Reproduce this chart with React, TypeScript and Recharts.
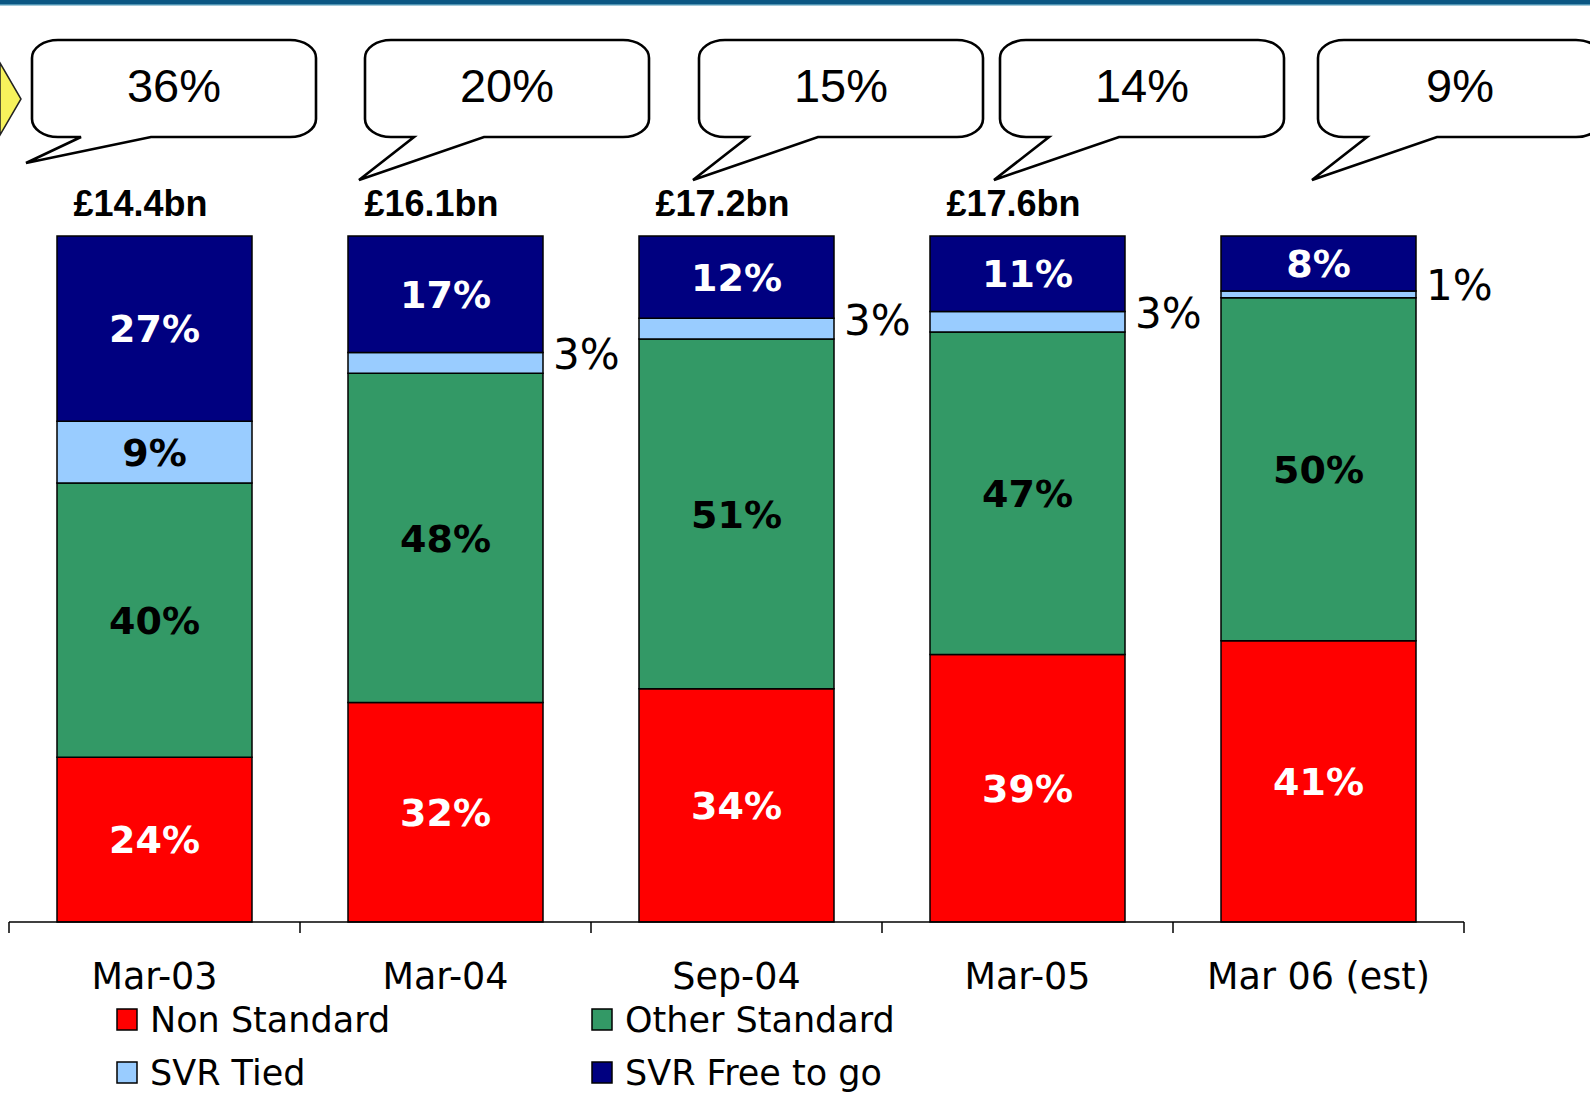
import React from 'react';
import { BarChart, Bar, XAxis, YAxis, LabelList, Legend } from 'recharts';

const categories = ['Mar-03', 'Mar-04', 'Sep-04', 'Mar-05', 'Mar 06 (est)'];
const nonStandard = [24, 32, 34, 39, 41];
const otherStandard = [40, 48, 51, 47, 50];
const svrTied = [9, 3, 3, 3, 1];
const svrFreeToGo = [27, 17, 12, 11, 8];
const bookSize = ['£14.4bn', '£16.1bn', '£17.2bn', '£17.6bn', ''];
const calloutShare = ['36%', '20%', '15%', '14%', '9%'];

const data = categories.map((cat, i) => ({
  cat,
  nonStandard: nonStandard[i],
  otherStandard: otherStandard[i],
  svrTied: svrTied[i],
  svrFreeToGo: svrFreeToGo[i],
}));

// layout
const W = 1590;
const H = 1093;
const XAXIS_H = 171;
const AXIS_Y = H - XAXIS_H;
const BAND = (W - 9 - 126) / categories.length;
const BUBBLE_SHIFT = [-25, 17, 60, 70, 97];
const BUBBLE_TIP_Y = [163, 180, 180, 180, 180];

const TAHOMA = "'DejaVu Sans', Verdana, sans-serif";
const ARIAL = "'Liberation Sans', Arial, sans-serif";

const COLORS = {
  nonStandard: '#ff0000',
  otherStandard: '#339966',
  svrTied: '#99ccff',
  svrFreeToGo: '#000080',
};

const box = (props: any) => props.viewBox ?? props;

const insideLabel = (color: string) => (props: any) => {
  const { x, y, width, height } = box(props);
  return (
    <text x={x + width / 2} y={y + height / 2} dy="0.36em" textAnchor="middle"
      fill={color} fontFamily={TAHOMA} fontWeight="bold" fontSize={38}>
      {props.value}%
    </text>
  );
};

const tiedLabel = (props: any) => {
  const { x, y, width, height } = box(props);
  if (props.value >= 5) return insideLabel('#000')(props);
  return (
    <text x={x + width + 10} y={y + height / 2 - 9} dy="0.36em" textAnchor="start"
      fill="#000" fontFamily={TAHOMA} fontSize={42}>
      {props.value}%
    </text>
  );
};

// speech bubble + book size above each bar
const calloutLabel = (props: any) => {
  const { x, width } = box(props);
  const i = categories.indexOf(props.value);
  if (i < 0) return null;
  const L = x + BUBBLE_SHIFT[i];
  const T = 40;
  const B = 137;
  const R = L + 284;
  const rx = 26;
  const ry = 18;
  const d = [
    `M${L + rx},${T}`, `H${R - rx}`, `A${rx},${ry} 0 0 1 ${R},${T + ry}`,
    `V${B - ry}`, `A${rx},${ry} 0 0 1 ${R - rx},${B}`,
    `H${L + 119}`, `L${L - 6},${BUBBLE_TIP_Y[i]}`, `L${L + 49},${B}`,
    `H${L + rx}`, `A${rx},${ry} 0 0 1 ${L},${B - ry}`,
    `V${T + ry}`, `A${rx},${ry} 0 0 1 ${L + rx},${T}`, 'Z',
  ].join(' ');
  return (
    <g>
      <path d={d} fill="#fff" stroke="#000" strokeWidth={2.6} strokeLinejoin="miter" />
      <text x={L + 142} y={102} textAnchor="middle" fontFamily={ARIAL} fontSize={47} fill="#000">
        {calloutShare[i]}
      </text>
      {bookSize[i] && (
        <text x={x + width / 2 - 14} y={216} textAnchor="middle" fontFamily={ARIAL}
          fontWeight="bold" fontSize={36} fill="#000">
          {bookSize[i]}
        </text>
      )}
    </g>
  );
};

const CategoryTick = (props: any) => {
  const { x, index, payload } = props;
  const last = index === categories.length - 1;
  return (
    <g>
      <line x1={x - BAND / 2} x2={x - BAND / 2} y1={AXIS_Y} y2={AXIS_Y + 11} stroke="#000" strokeWidth={1.5} />
      {last && <line x1={x + BAND / 2} x2={x + BAND / 2} y1={AXIS_Y} y2={AXIS_Y + 11} stroke="#000" strokeWidth={1.5} />}
      <text x={x} y={AXIS_Y + 67} textAnchor="middle" fontFamily={TAHOMA} fontSize={36.5} fill="#000">
        {payload.value}
      </text>
    </g>
  );
};

const legendItems = [
  { name: 'Non Standard', key: 'nonStandard' },
  { name: 'Other Standard', key: 'otherStandard' },
  { name: 'SVR Tied', key: 'svrTied' },
  { name: 'SVR Free to go', key: 'svrFreeToGo' },
];

const LegendBlock = () => (
  <svg width={900} height={98} style={{ display: 'block' }}>
    {legendItems.map((it, i) => {
      const lx = i % 2 === 0 ? 117 : 592;
      const ty = i < 2 ? 14 : 67;
      return (
        <g key={it.key}>
          <rect x={lx} y={ty} width={20} height={21} fill={(COLORS as any)[it.key]} stroke="#000" strokeWidth={1.5} />
          <text x={lx + 33} y={ty + 23} fontFamily={TAHOMA} fontSize={35} fill="#000">{it.name}</text>
        </g>
      );
    })}
  </svg>
);

export default function App() {
  return (
    <div style={{ position: 'relative', width: W, height: H, background: '#fff', overflow: 'hidden' }}>
      <style>{'body{margin:0}'}</style>
      <BarChart width={W} height={H} data={data} barSize={195}
        margin={{ top: AXIS_Y - 686, right: 126, left: 9, bottom: 0 }}>
        <XAxis dataKey="cat" height={XAXIS_H} tickLine={false} interval={0}
          axisLine={{ stroke: '#000', strokeWidth: 1.5 }} tick={<CategoryTick />} />
        <YAxis hide domain={[0, 100]} />
        <Legend layout="horizontal" verticalAlign="middle" content={() => <LegendBlock />}
          wrapperStyle={{ position: 'absolute', left: 0, top: 995, width: 900, height: 98 }} />
        <Bar dataKey="nonStandard" name="Non Standard" stackId="a" fill={COLORS.nonStandard}
          stroke="#000" strokeWidth={1.5} isAnimationActive={false}>
          <LabelList dataKey="nonStandard" content={insideLabel('#fff')} />
        </Bar>
        <Bar dataKey="otherStandard" name="Other Standard" stackId="a" fill={COLORS.otherStandard}
          stroke="#000" strokeWidth={1.5} isAnimationActive={false}>
          <LabelList dataKey="otherStandard" content={insideLabel('#000')} />
        </Bar>
        <Bar dataKey="svrTied" name="SVR Tied" stackId="a" fill={COLORS.svrTied}
          stroke="#000" strokeWidth={1.5} isAnimationActive={false}>
          <LabelList dataKey="svrTied" content={tiedLabel} />
        </Bar>
        <Bar dataKey="svrFreeToGo" name="SVR Free to go" stackId="a" fill={COLORS.svrFreeToGo}
          stroke="#000" strokeWidth={1.5} isAnimationActive={false}>
          <LabelList dataKey="svrFreeToGo" content={insideLabel('#fff')} />
          <LabelList dataKey="cat" content={calloutLabel} />
        </Bar>
      </BarChart>
      <svg width={W} height={H} style={{ position: 'absolute', left: 0, top: 0, pointerEvents: 'none' }}>
        <rect x={0} y={0} width={W} height={4} fill="#0b5783" />
        <rect x={0} y={4} width={W} height={1.5} fill="#4d93b3" />
        <polygon points="0,63 21,99 0,135" fill="#f7f25c" stroke="#222" strokeWidth={1.5} />
      </svg>
    </div>
  );
}
